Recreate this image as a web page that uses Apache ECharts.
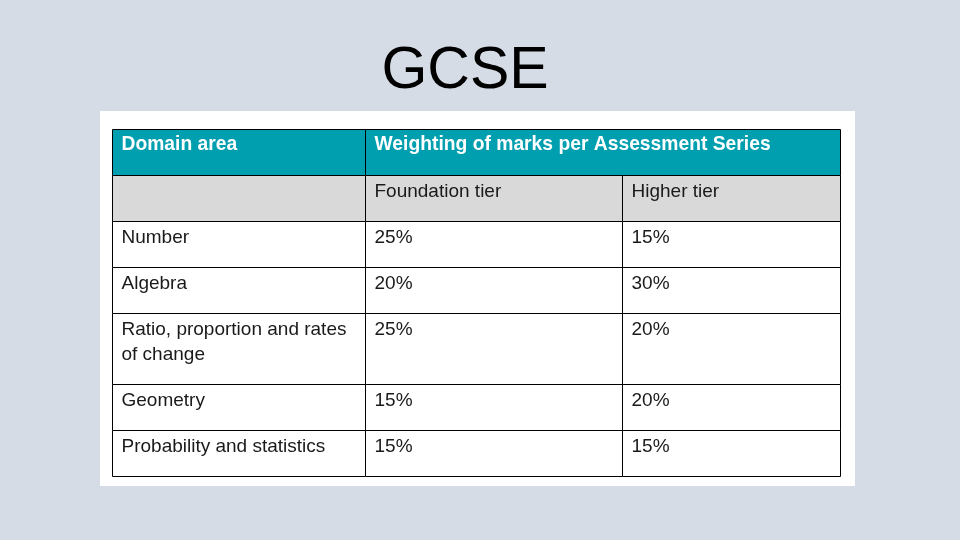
<!DOCTYPE html>
<html>
<head>
<meta charset="utf-8">
<script src="https://cdn.jsdelivr.net/npm/echarts@6/dist/echarts.min.js"></script>
<style>
html,body{margin:0;padding:0;background:#d6dce5;}
#c{width:960px;height:540px;}
</style>
</head>
<body>
<div id="c"></div>
<script>
// ---- data ----
const title = 'GCSE';
const headerLabels = ['Domain area', 'Weighting of marks per Assessment Series'];
const tierLabels = ['Foundation tier', 'Higher tier'];
const domains = ['Number', 'Algebra', 'Ratio, proportion and rates of change', 'Geometry', 'Probability and statistics'];
const foundation = [25, 20, 25, 15, 15];
const higher = [15, 30, 20, 20, 15];

// ---- layout ----
const font = '"Liberation Sans", Arial, sans-serif';
const measureCtx = document.createElement('canvas').getContext('2d');
function wrap(text, px, bold, maxW) {
  measureCtx.font = (bold ? 'bold ' : '') + px + 'px ' + font;
  const words = text.split(' ');
  const lines = [];
  let cur = '';
  words.forEach(w => {
    const t = cur ? cur + ' ' + w : w;
    if (cur && measureCtx.measureText(t).width > maxW) { lines.push(cur); cur = w; }
    else cur = t;
  });
  if (cur) lines.push(cur);
  return lines.join('\n');
}

const colWidths = [253, 257, 218];
const colEdges = [0]; colWidths.forEach(w => colEdges.push(colEdges[colEdges.length - 1] + w));

// cells: [col, row, colspan, kind]  kind 0=header,1=sub,2=body
const cells = [];
const texts = [];
const sizes = [19.3, 19, 19];
function add(col, row, span, kind, txt) {
  const maxW = colWidths.slice(col, col + span).reduce((a, b) => a + b, 0) - 14;
  cells.push([col, row, span, kind]);
  texts.push(wrap(txt, sizes[kind], kind === 0, maxW));
}
add(0, 0, 1, 0, headerLabels[0]);
add(1, 0, 2, 0, headerLabels[1]);
add(0, 1, 1, 1, '');
add(1, 1, 1, 1, tierLabels[0]);
add(2, 1, 1, 1, tierLabels[1]);
domains.forEach((d, i) => {
  add(0, i + 2, 1, 2, d);
  add(1, i + 2, 1, 2, foundation[i] + '%');
  add(2, i + 2, 1, 2, higher[i] + '%');
});
const nRows = domains.length + 2;
const rowLines = new Array(nRows).fill(1);
cells.forEach((c, i) => { rowLines[c[1]] = Math.max(rowLines[c[1]], texts[i].split('\n').length); });
const rowHeights = rowLines.map(n => 46 + (n - 1) * 25);
const rowEdges = [0]; rowHeights.forEach(h => rowEdges.push(rowEdges[rowEdges.length - 1] + h));
const totalW = colEdges[colEdges.length - 1];
const totalH = rowEdges[rowEdges.length - 1];

const fills = ['#009fb0', '#d9d9d9', '#ffffff'];

const chart = echarts.init(document.getElementById('c'));
chart.setOption({
  backgroundColor: '#d6dce5',
  animation: false,
  graphic: [
    { type: 'rect', z: 0, shape: { x: 100, y: 111, width: 755, height: 375 }, style: { fill: '#ffffff' } },
    { type: 'text', z: 5, x: 465, y: 72, style: { text: title, fontFamily: font, fontSize: 59, fill: '#000', align: 'center', verticalAlign: 'middle' } }
  ],
  grid: { left: 112, top: 129, width: totalW, height: totalH, show: false },
  xAxis: { type: 'value', min: 0, max: totalW, show: false },
  yAxis: { type: 'value', min: 0, max: totalH, inverse: true, show: false },
  series: [{
    type: 'custom',
    z: 10,
    data: cells,
    renderItem: function (params, api) {
      const col = api.value(0), row = api.value(1), span = api.value(2), kind = api.value(3);
      const p0 = api.coord([colEdges[col], rowEdges[row]]);
      const p1 = api.coord([colEdges[col + span], rowEdges[row + 1]]);
      const x0 = Math.round(p0[0]) + 0.5, y0 = Math.round(p0[1]) + 0.5;
      const x1 = Math.round(p1[0]) + 0.5, y1 = Math.round(p1[1]) + 0.5;
      const txt = texts[params.dataIndex];
      return {
        type: 'group',
        children: [
          { type: 'rect', shape: { x: x0, y: y0, width: x1 - x0, height: y1 - y0 },
            style: { fill: fills[kind], stroke: '#000', lineWidth: 1 } },
          { type: 'text', x: x0 + 9, y: y0 + (kind === 0 ? 3 : 3.5),
            style: {
              text: txt, fontFamily: font,
              fontSize: sizes[kind],
              fontWeight: kind === 0 ? 'bold' : 'normal',
              fill: kind === 0 ? '#ffffff' : '#1a1a1a',
              align: 'left', verticalAlign: 'top', lineHeight: 25
            } }
        ]
      };
    }
  }]
});
</script>
</body>
</html>
